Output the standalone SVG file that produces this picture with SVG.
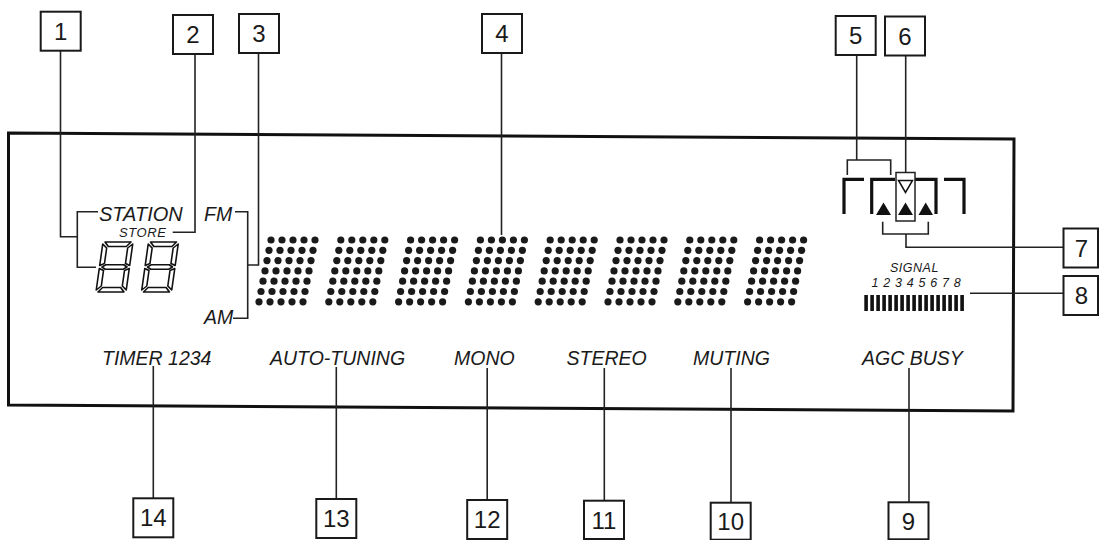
<svg xmlns="http://www.w3.org/2000/svg" width="1099" height="540" viewBox="0 0 1099 540">
<style>
  .box{fill:#fff;stroke:#1a1a1a;stroke-width:2}
  .num{font-family:"Liberation Sans",Arial,sans-serif;font-size:24px;fill:#1a1a1a;text-anchor:middle}
  .lbl{font-family:"Liberation Sans",Arial,sans-serif;font-style:italic;fill:#1a1a1a}
  .con{fill:none;stroke:#222;stroke-width:1.6}
  .thick{fill:none;stroke:#111;stroke-width:3.2}
  .seg{fill:#fff;stroke:#111;stroke-width:1.6;stroke-linejoin:round}
  .dot{fill:#1a1a1a}
</style>
<defs>
  <g id="ch">
    <g id="row">
      <circle class="dot" cx="0" cy="0" r="3.6"/><circle class="dot" cx="11" cy="0" r="3.6"/><circle class="dot" cx="22" cy="0" r="3.6"/><circle class="dot" cx="33" cy="0" r="3.6"/><circle class="dot" cx="44" cy="0" r="3.6"/>
    </g>
    <use href="#row" x="-2" y="10.3"/>
    <use href="#row" x="-4" y="20.6"/>
    <use href="#row" x="-6" y="30.9"/>
    <use href="#row" x="-8" y="41.2"/>
    <use href="#row" x="-10" y="51.5"/>
    <use href="#row" x="-12" y="61.8"/>
  </g>
  <g id="digit8">
    <polygon class="seg" points="2,0 28,0 24,4.5 6,4.5"/>
    <polygon class="seg" points="30,2 30,23.5 25.5,21.5 25.5,6"/>
    <polygon class="seg" points="30,26.5 30,48 25.5,44 25.5,28.5"/>
    <polygon class="seg" points="6,45.5 24,45.5 28,50 2,50"/>
    <polygon class="seg" points="0,26.5 4.5,28.5 4.5,44 0,48"/>
    <polygon class="seg" points="0,2 4.5,6 4.5,21.5 0,23.5"/>
    <polygon class="seg" points="2.5,25 6,22.8 24,22.8 27.5,25 24,27.2 6,27.2"/>
  </g>
</defs>
<rect width="1099" height="540" fill="#fff"/>

<!-- display panel -->
<g id="panel">
  <polygon points="8.5,133 1014,139 1013,411 8.5,405" fill="none" stroke="#111" stroke-width="3"/>
</g>

<g id="display">
  <text class="lbl" x="99" y="220.5" font-size="20">STATION</text>
  <text class="lbl" x="119" y="237" font-size="13" letter-spacing="0.6">STORE</text>
  <use href="#digit8" transform="translate(103,242) skewX(-8)"/>
  <use href="#digit8" transform="translate(148.5,242) skewX(-8)"/>
  <text class="lbl" x="204" y="221" font-size="19.5">FM</text>
  <text class="lbl" x="204" y="324" font-size="19.5">AM</text>
  <g id="matrix">
    <use href="#ch" x="271" y="240"/>
    <use href="#ch" x="340.8" y="240"/>
    <use href="#ch" x="410.6" y="240"/>
    <use href="#ch" x="480.4" y="240"/>
    <use href="#ch" x="550.2" y="240"/>
    <use href="#ch" x="620" y="240"/>
    <use href="#ch" x="689.8" y="240"/>
    <use href="#ch" x="759.6" y="240"/>
  </g>
  <g id="indicators">
    <path class="thick" d="M844,214 V179.3 H864"/>
    <path class="thick" d="M871.7,214 V179.3 H895"/>
    <path class="thick" d="M915,179.3 H936 V214"/>
    <path class="thick" d="M944,179.3 H964 V214"/>
    <rect x="896" y="172.5" width="19" height="48.5" fill="none" stroke="#222" stroke-width="1.5"/>
    <polygon points="898.5,180.5 912.5,180.5 905.5,192.5" fill="#fff" stroke="#111" stroke-width="1.5"/>
    <polygon points="876,215 891,215 883.5,202.5" fill="#111"/>
    <polygon points="898,215 913,215 905.5,202.5" fill="#111"/>
    <polygon points="918.5,215 933,215 925.7,202.5" fill="#111"/>
  </g>
  <text class="lbl" x="890" y="272" font-size="12.5" letter-spacing="0.5">SIGNAL</text>
  <text class="lbl" x="871.5" y="287" font-size="12.5" letter-spacing="4.8">12345678</text>
  <g id="bars" fill="#111">
    <rect x="864.3" y="295" width="3.6" height="16"/><rect x="870.3" y="295" width="3.6" height="16"/><rect x="876.3" y="295" width="3.6" height="16"/><rect x="882.3" y="295" width="3.6" height="16"/><rect x="888.3" y="295" width="3.6" height="16"/><rect x="894.3" y="295" width="3.6" height="16"/><rect x="900.3" y="295" width="3.6" height="16"/><rect x="906.3" y="295" width="3.6" height="16"/><rect x="912.3" y="295" width="3.6" height="16"/><rect x="918.3" y="295" width="3.6" height="16"/><rect x="924.3" y="295" width="3.6" height="16"/><rect x="930.3" y="295" width="3.6" height="16"/><rect x="936.3" y="295" width="3.6" height="16"/><rect x="942.3" y="295" width="3.6" height="16"/><rect x="948.3" y="295" width="3.6" height="16"/><rect x="954.3" y="295" width="3.6" height="16"/><rect x="960.3" y="295" width="3.6" height="16"/>
  </g>
  <text class="lbl" x="102" y="365" font-size="19.5">TIMER 1234</text>
  <text class="lbl" x="270" y="365" font-size="19.5">AUTO-TUNING</text>
  <text class="lbl" x="454" y="365" font-size="19.5">MONO</text>
  <text class="lbl" x="566.5" y="365" font-size="19.5">STEREO</text>
  <text class="lbl" x="693" y="365" font-size="19.5">MUTING</text>
  <text class="lbl" x="862" y="365" font-size="19.5">AGC BUSY</text>
</g>

<g id="connectors">
  <path class="con" d="M60.5,51 V236.7 H77.3"/>
  <path class="con" d="M98,211.7 H77.3 V267.3 H96"/>
  <path class="con" d="M195,54 V232.3 H172.7"/>
  <path class="con" d="M258.5,53 V265 H247.7"/>
  <path class="con" d="M235,211.7 H247.7 V318.3 H233"/>
  <path class="con" d="M501.5,53 V235"/>
  <path class="con" d="M856.7,55 V160"/>
  <path class="con" d="M847.3,175 V160 H890.7 V175"/>
  <path class="con" d="M905.7,55.7 V172.5"/>
  <path class="con" d="M882.7,221.7 V234 H928.3 V221.7"/>
  <path class="con" d="M906,234 V247.3 H1063.5"/>
  <path class="con" d="M970,293.3 H1063"/>
  <path class="con" d="M909,368 V502.3"/>
  <path class="con" d="M731,368 V502.7"/>
  <path class="con" d="M604.3,368 V500.7"/>
  <path class="con" d="M487.2,368 V500"/>
  <path class="con" d="M336.3,367 V499"/>
  <path class="con" d="M153.3,366 V498.3"/>
</g>

<g id="c1"><rect class="box" x="40.7" y="11.7" width="40" height="39"/><text class="num" x="60.7" y="39.7">1</text></g>
<g id="c2"><rect class="box" x="173" y="15" width="40" height="39"/><text class="num" x="193" y="43">2</text></g>
<g id="c3"><rect class="box" x="239" y="14" width="40" height="39"/><text class="num" x="259" y="42">3</text></g>
<g id="c4"><rect class="box" x="482" y="14" width="40" height="39"/><text class="num" x="502" y="42">4</text></g>
<g id="c5"><rect class="box" x="835.7" y="16" width="40" height="39"/><text class="num" x="855.7" y="44">5</text></g>
<g id="c6"><rect class="box" x="885" y="16.5" width="40" height="39"/><text class="num" x="905" y="44.5">6</text></g>
<g id="c7"><rect class="box" x="1063.5" y="228.5" width="34.5" height="39"/><text class="num" x="1081.5" y="256.5">7</text></g>
<g id="c8"><rect class="box" x="1063.5" y="276" width="34.5" height="39"/><text class="num" x="1081.5" y="304">8</text></g>
<g id="c9"><rect class="box" x="888.5" y="502.3" width="40" height="37"/><text class="num" x="908.5" y="529.5">9</text></g>
<g id="c10"><rect class="box" x="710.7" y="502.7" width="40" height="37"/><text class="num" x="730.7" y="529.7">10</text></g>
<g id="c11"><rect class="box" x="584" y="500.7" width="40" height="38.3"/><text class="num" x="604" y="528.5">11</text></g>
<g id="c12"><rect class="box" x="467.2" y="500" width="40" height="39"/><text class="num" x="487.2" y="528">12</text></g>
<g id="c13"><rect class="box" x="316.3" y="499" width="40" height="39"/><text class="num" x="336.3" y="527">13</text></g>
<g id="c14"><rect class="box" x="133.3" y="498.3" width="40" height="39"/><text class="num" x="153.3" y="526.3">14</text></g>
</svg>
